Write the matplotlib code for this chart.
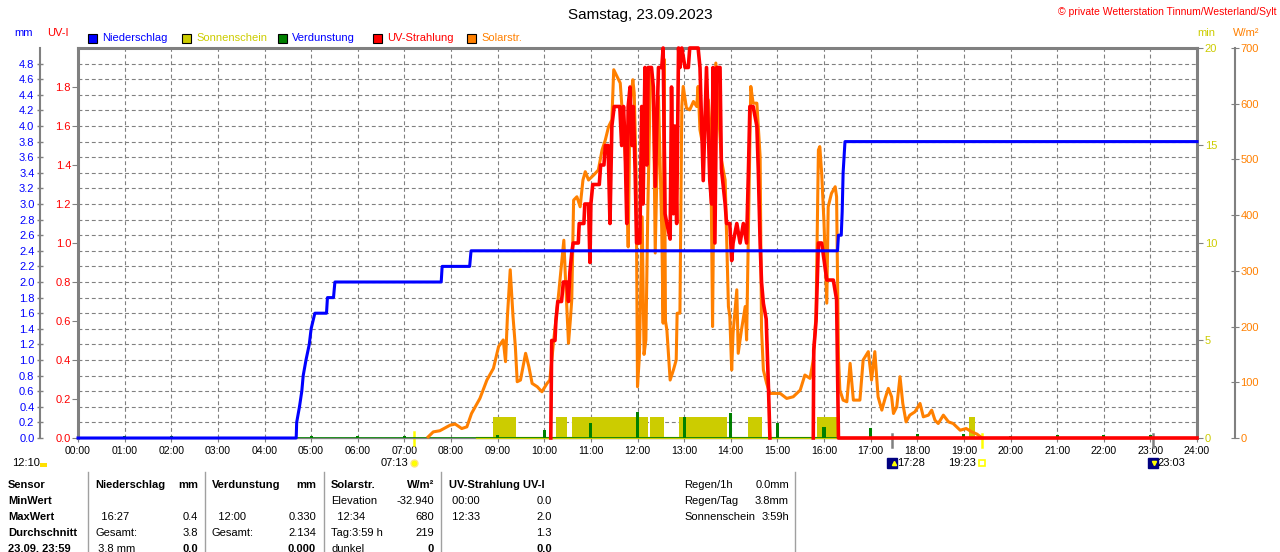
import matplotlib
matplotlib.use("Agg")
import matplotlib.pyplot as plt
import matplotlib.transforms as mtransforms
from matplotlib.patches import Rectangle
from matplotlib.lines import Line2D

plt.rcParams['font.family'] = ['Liberation Sans', 'DejaVu Sans']
plt.rcParams['font.size'] = 8

# ---------------- data ----------------
hours = list(range(25))
hour_labels = ["%02d:00" % h for h in hours]

# Niederschlag, cumulative mm
rain = [(0, 0), (4.68, 0), (4.69, 0.2), (4.75, 0.4), (4.80, 0.6), (4.83, 0.8), (4.89, 1.0),
        (4.96, 1.2), (5.00, 1.4), (5.08, 1.6), (5.33, 1.6), (5.35, 1.8), (5.48, 1.8),
        (5.51, 2.0), (7.79, 2.0), (7.81, 2.2), (8.40, 2.2), (8.43, 2.4), (16.29, 2.4),
        (16.31, 2.6), (16.37, 2.6), (16.39, 2.9), (16.41, 3.4), (16.45, 3.8), (24, 3.8)]

# Solarstrahlung, W/m2
solar = [(7.51, 2), (7.62, 11), (7.76, 13), (7.98, 23), (8.09, 25), (8.23, 17), (8.34, 20),
         (8.44, 44), (8.62, 71), (8.77, 104), (8.91, 125), (9.02, 164), (9.12, 176),
         (9.17, 137), (9.21, 218), (9.27, 302), (9.33, 218), (9.38, 164), (9.42, 101),
         (9.49, 104), (9.60, 152), (9.67, 128), (9.74, 98), (9.85, 92), (9.95, 83),
         (10.06, 98), (10.12, 104), (10.20, 173), (10.31, 260), (10.42, 355), (10.45, 296),
         (10.52, 170), (10.56, 212), (10.59, 248), (10.63, 427), (10.70, 433), (10.77, 415),
         (10.83, 463), (10.88, 478), (10.95, 463), (11.06, 472), (11.16, 481), (11.24, 517),
         (11.31, 535), (11.38, 559), (11.45, 571), (11.49, 661), (11.56, 649), (11.63, 637),
         (11.66, 601), (11.70, 559), (11.77, 457), (11.80, 343), (11.84, 595), (11.90, 643),
         (11.93, 619), (11.97, 475), (12.00, 92), (12.04, 146), (12.10, 397), (12.14, 150),
         (12.18, 176), (12.22, 404), (12.28, 655), (12.34, 625), (12.38, 332), (12.45, 613),
         (12.52, 373), (12.55, 206), (12.57, 680), (12.60, 210), (12.63, 194), (12.70, 104),
         (12.77, 122), (12.83, 140), (12.85, 224), (12.91, 224), (12.95, 595), (12.98, 631),
         (13.05, 592), (13.12, 589), (13.20, 604), (13.27, 595), (13.30, 631), (13.34, 553),
         (13.38, 535), (13.45, 577), (13.52, 607), (13.57, 535), (13.61, 200), (13.64, 475),
         (13.68, 673), (13.73, 595), (13.80, 499), (13.88, 463), (13.95, 236), (13.98, 218),
         (14.02, 122), (14.05, 188), (14.13, 266), (14.16, 152), (14.23, 194), (14.31, 236),
         (14.34, 176), (14.40, 475), (14.43, 631), (14.48, 601), (14.56, 601), (14.63, 505),
         (14.66, 194), (14.70, 122), (14.77, 98), (14.84, 80), (14.91, 80), (15.06, 80),
         (15.20, 71), (15.34, 74), (15.49, 86), (15.59, 113), (15.70, 107), (15.77, 140),
         (15.83, 224), (15.88, 517), (15.91, 523), (15.95, 475), (16.00, 386), (16.06, 242),
         (16.09, 415), (16.16, 439), (16.24, 451), (16.27, 433), (16.31, 146), (16.34, 86),
         (16.41, 68), (16.49, 65), (16.56, 134), (16.63, 68), (16.77, 68), (16.84, 140),
         (16.95, 155), (17.02, 104), (17.09, 155), (17.16, 74), (17.24, 50), (17.31, 71),
         (17.38, 89), (17.45, 74), (17.49, 44), (17.56, 56), (17.63, 110), (17.69, 62),
         (17.76, 29), (17.84, 41), (17.95, 47), (18.06, 62), (18.13, 38), (18.24, 41),
         (18.31, 50), (18.38, 32), (18.45, 26), (18.56, 41), (18.67, 29), (18.77, 26),
         (18.92, 14), (19.05, 17), (19.17, 11), (19.28, 7), (19.36, 2)]

# UV-Index, two drawn stretches
uv_morning = [(10.14, 0), (10.16, 0.5), (10.23, 0.5), (10.25, 0.6), (10.29, 0.7), (10.37, 0.7),
              (10.41, 0.8), (10.48, 0.8), (10.52, 0.7), (10.55, 0.85), (10.59, 0.95),
              (10.62, 1.0), (10.73, 1.0), (10.75, 1.1), (10.85, 1.1), (10.87, 1.2),
              (10.95, 1.2), (10.98, 0.9), (11.00, 1.2), (11.04, 1.3), (11.18, 1.3),
              (11.21, 1.4), (11.28, 1.4), (11.31, 1.5), (11.37, 1.5), (11.41, 1.1),
              (11.45, 1.6), (11.50, 1.7), (11.62, 1.7), (11.66, 1.5), (11.70, 1.7),
              (11.73, 1.53), (11.77, 1.1), (11.80, 1.7), (11.84, 1.8), (11.88, 1.5),
              (11.91, 1.7), (11.95, 1.36), (11.98, 1.0), (12.05, 1.0), (12.09, 1.7),
              (12.12, 1.2), (12.16, 1.9), (12.20, 1.4), (12.23, 1.9), (12.30, 1.9),
              (12.34, 1.8), (12.38, 1.29), (12.45, 1.9), (12.52, 1.9), (12.55, 2.0),
              (12.59, 1.15), (12.63, 1.1), (12.70, 1.02), (12.73, 1.8), (12.77, 1.15),
              (12.80, 1.6), (12.84, 1.1), (12.88, 2.0), (12.91, 1.9), (12.95, 2.0),
              (13.02, 1.9), (13.09, 1.9), (13.12, 2.0), (13.30, 2.0), (13.34, 1.9),
              (13.41, 1.32), (13.48, 1.9), (13.55, 1.32), (13.59, 1.2), (13.62, 1.9),
              (13.66, 1.0), (13.70, 1.9), (13.77, 1.9), (13.80, 1.38), (13.88, 1.2),
              (13.91, 1.1), (13.98, 1.1), (14.02, 0.91), (14.05, 1.0), (14.13, 1.1),
              (14.20, 1.0), (14.27, 1.1), (14.34, 1.0), (14.38, 1.38), (14.41, 1.7),
              (14.48, 1.7), (14.56, 1.6), (14.59, 1.38), (14.63, 1.0), (14.66, 0.8),
              (14.70, 0.69), (14.76, 0.61), (14.81, 0.25), (14.84, 0)]
uv_afternoon = [(15.77, 0), (15.78, 0.45), (15.83, 0.6), (15.88, 1.0), (15.95, 1.0),
                (15.98, 0.95), (16.02, 0.88), (16.06, 0.81), (16.20, 0.81), (16.27, 0.71),
                (16.31, 0), (24, 0)]

# Sonnenschein, minutes
sun_start = [8.91, 10.25, 10.59, 12.27, 12.90, 14.36, 15.84, 19.11]
sun_end = [9.39, 10.48, 12.23, 12.57, 13.93, 14.66, 16.27, 19.24]
sun_min = [1.1, 1.1, 1.1, 1.1, 1.1, 1.1, 1.1, 1.1]
sun_day = [8.55, 19.4]

# Verdunstung, mm per hour
evap_h = list(range(1, 24))
evap_mm = [0.03, 0.03, 0, 0, 0.02, 0.02, 0.02, 0, 0.04, 0.10, 0.19, 0.33, 0.27, 0.32,
           0.19, 0.14, 0.13, 0.05, 0.05, 0.02, 0.04, 0.04, 0.04]

mm_ticks = [round(0.2 * i, 1) for i in range(25)]
uv_ticks = [round(0.2 * i, 1) for i in range(10)]
sun_ticks = [0, 5, 10, 15, 20]
sol_ticks = list(range(0, 701, 100))

legend_items = [("Niederschlag", "#0000ff", "#0000ff"),
                ("Sonnenschein", "#cccc00", "#cccc00"),
                ("Verdunstung", "#008000", "#0000ff"),
                ("UV-Strahlung", "#ff0000", "#ff0000"),
                ("Solarstr.", "#ff8000", "#ff8000")]

table_rows = [
    ["Sensor", "Niederschlag", "mm", "Verdunstung", "mm", "Solarstr.", "W/m²", "UV-Strahlung UV-I", ""],
    ["MinWert", "", "", "", "", "Elevation", "-32.940", " 00:00", "0.0"],
    ["MaxWert", "  16:27", "0.4", "  12:00", "0.330", "  12:34", "680", " 12:33", "2.0"],
    ["Durchschnitt", "Gesamt:", "3.8", "Gesamt:", "2.134", "Tag:3:59 h", "219", "", "1.3"],
    ["23.09. 23:59", " 3.8 mm", "0.0", "", "0.000", "dunkel", "0", "", "0.0"],
]
summary_rows = [["Regen/1h", "0.0mm"], ["Regen/Tag", "3.8mm"], ["Sonnenschein", "3:59h"]]

# sun / moon events (hours, label)
sunrise = (7 + 13 / 60, "07:13")
sunset = (19 + 23 / 60, "19:23")
moon_a = (17 + 28 / 60, "17:28")
moon_b = (23 + 3 / 60, "23:03")

# ---------------- figure ----------------
W, H = 1280, 552
GRAY = "#808080"


def fx(px):
    return px / W


def fy(py):
    return 1 - py / H


fig = plt.figure(figsize=(12.8, 5.52), dpi=100)
L, R, T, B = 78, 1197, 48, 438
ax = fig.add_axes([fx(L), fy(B), (R - L) / W, (B - T) / H])
ax.set_xlim(0, 24)
ax.set_ylim(0, 5)

# grid + mm axis
ax.set_xticks(hours)
ax.set_xticklabels(hour_labels)
ax.set_yticks(mm_ticks)
ax.set_yticklabels(["%.1f" % v for v in mm_ticks])
ax.grid(True, color=GRAY, lw=0.8, ls=(0, (3.5, 2.5)))
ax.tick_params(axis='x', direction='out', length=3, color=GRAY, labelsize=7.6, pad=3)
ax.tick_params(axis='y', direction='inout', length=5, width=1, color=GRAY,
               labelcolor='#0000ff', labelsize=8, pad=1.5)
ax.spines['left'].set_position(('axes', -38 / (R - L)))
ax.spines['left'].set_color(GRAY)
ax.spines['left'].set_linewidth(1.5)
ax.spines['top'].set_color(GRAY)
ax.spines['top'].set_linewidth(2.2)
ax.spines['bottom'].set_color(GRAY)
ax.spines['bottom'].set_linewidth(1)
ax.spines['right'].set_visible(False)


def twin(ylim):
    a = ax.twinx()
    a.set_ylim(*ylim)
    for s in a.spines.values():
        s.set_visible(False)
    a.set_yticks([])
    return a


# sunshine
ax_sun = twin((0, 20))
ax_sun.bar(sun_start, sun_min, width=[e - s for s, e in zip(sun_start, sun_end)],
           align='edge', color='#cccc00', lw=0)
ax_sun.plot(sun_day, [0, 0], color='#cccc00', lw=1.6, clip_on=False)
ax_sun.spines['right'].set_visible(True)
ax_sun.spines['right'].set_color(GRAY)
ax_sun.spines['right'].set_linewidth(2.2)
ax_sun.set_yticks(sun_ticks)
ax_sun.tick_params(axis='y', direction='out', length=4.5, color=GRAY,
                   labelcolor='#cccc00', labelsize=8, pad=1)

# evaporation
ax_ev = twin((0, 5))
ax_ev.axhline(0, color='#008000', lw=1.2)
ax_ev.bar(evap_h, evap_mm, width=0.065, color='#008000', lw=0)

# solar
ax_sol = twin((0, 700))
ax_sol.plot([p[0] for p in solar], [p[1] for p in solar], color='#ff8000', lw=2.2,
            clip_on=False)
ax_sol.spines['right'].set_visible(True)
ax_sol.spines['right'].set_position(('axes', 1 + 38 / (R - L)))
ax_sol.spines['right'].set_color(GRAY)
ax_sol.spines['right'].set_linewidth(1.5)
ax_sol.set_yticks(sol_ticks)
ax_sol.tick_params(axis='y', direction='inout', length=6, color=GRAY,
                   labelcolor='#ff8000', labelsize=8, pad=1)

# UV
ax_uv = twin((0, 2))
uv_t = [p[0] for p in uv_morning] + [float('nan')] + [p[0] for p in uv_afternoon]
uv_v = [p[1] for p in uv_morning] + [float('nan')] + [p[1] for p in uv_afternoon]
ax_uv.plot(uv_t, uv_v, color='#ff0000', lw=2.6, clip_on=False)
ax_uv.yaxis.set_ticks_position('left')
ax_uv.spines['left'].set_visible(True)
ax_uv.spines['left'].set_color(GRAY)
ax_uv.spines['left'].set_linewidth(2.2)
ax_uv.set_yticks(uv_ticks)
ax_uv.set_yticklabels(["%.1f" % v for v in uv_ticks])
ax_uv.tick_params(axis='y', direction='out', length=4, color=GRAY,
                  labelcolor='#ff0000', labelsize=8, pad=1)

# rain on top
ax_rain = twin((0, 5))
ax_rain.plot([p[0] for p in rain], [p[1] for p in rain], color='#0000ff', lw=2.2,
             clip_on=False)

# sun / moon markers under the time axis
trans = mtransforms.blended_transform_factory(ax.transData, ax.transAxes)
ax.plot([sunrise[0]] * 2, [0.015, -0.018], color='#ffff00', lw=1.8, transform=trans,
        clip_on=False)
ax.plot([sunset[0]] * 2, [0.01, -0.023], color='#ffff00', lw=1.8, transform=trans,
        clip_on=False)
for ev in (moon_a, moon_b):
    ax.plot([ev[0]] * 2, [0.01, -0.023], color=GRAY, lw=1.8, transform=trans,
            clip_on=False)
icon_y = -0.064
ax.plot(sunrise[0], icon_y, 'o', ms=5, mfc='#ffff00', mec='#ffe680', transform=trans,
        clip_on=False)
ax.annotate(sunrise[1], (sunrise[0], icon_y), xycoords=trans, xytext=(-6, 0),
            textcoords='offset pixels', ha='right', va='center', fontsize=8)
ax.plot(sunset[0], icon_y, 's', ms=4.5, mfc='none', mec='#ffff00', mew=1.2,
        transform=trans, clip_on=False)
ax.annotate(sunset[1], (sunset[0], icon_y), xycoords=trans, xytext=(-6, 0),
            textcoords='offset pixels', ha='right', va='center', fontsize=8)
for ev, arrow in ((moon_a, '^'), (moon_b, 'v')):
    ax.plot(ev[0], icon_y, 's', ms=6.5, mfc='#000080', mec='#000080', transform=trans,
            clip_on=False)
    ax.plot(ev[0] + 0.03, icon_y, arrow, ms=3, mfc='#ffff00', mec='#ffff00',
            transform=trans, clip_on=False)
    ax.annotate(ev[1], (ev[0], icon_y), xycoords=trans, xytext=(5, 0),
                textcoords='offset pixels', ha='left', va='center', fontsize=8)
fig.text(fx(12), fy(463), "12:10", ha='left', va='center', fontsize=8)
fig.add_artist(Rectangle((fx(40), fy(467)), 7 / W, 4 / H, transform=fig.transFigure,
                         facecolor='#ffe000', edgecolor='none'))

# titles and units
fig.text(0.5, fy(15), "Samstag, 23.09.2023", ha='center', va='center', fontsize=11)
fig.text(fx(1277), fy(12), "© private Wetterstation Tinnum/Westerland/Sylt", ha='right',
         va='center', fontsize=7.5, color='#ff0000')
fig.text(fx(14), fy(33), "mm", color='#0000ff', va='center', fontsize=8)
fig.text(fx(47), fy(33), "UV-I", color='#ff0000', va='center', fontsize=8)
fig.text(fx(1197), fy(33), "min", color='#cccc00', va='center', fontsize=8)
fig.text(fx(1233), fy(33), "W/m²", color='#ff8000', va='center', fontsize=8)

# legend row
leg_x = [88, 182, 278, 373, 467]
for (label, fc, tc), x0 in zip(legend_items, leg_x):
    fig.add_artist(Rectangle((fx(x0), fy(43)), 9 / W, 9 / H, transform=fig.transFigure,
                             facecolor=fc, edgecolor='black', lw=0.8))
    fig.text(fx(x0 + 14), fy(38), label, color=tc, va='center', fontsize=8)

# table below the chart
for xs in (88, 205, 324, 441, 795):
    fig.add_artist(Line2D([fx(xs), fx(xs)], [fy(472), 0], transform=fig.transFigure,
                          color='#a0a0a0', lw=1))
col_x = [8, 95, 198, 212, 316, 331, 434, 449, 552]
col_ha = ['left', 'left', 'right', 'left', 'right', 'left', 'right', 'left', 'right']
row_y = [485, 501, 517, 533, 549]
for r, (row, yy) in enumerate(zip(table_rows, row_y)):
    for c, txt in enumerate(row):
        if not txt:
            continue
        bold = c == 0 or r == 0 or (r == 4 and c in (2, 4, 6, 8))
        fig.text(fx(col_x[c]), fy(yy), txt, ha=col_ha[c], va='center', fontsize=8,
                 fontweight='bold' if bold else 'normal')
for (name, val), yy in zip(summary_rows, row_y):
    fig.text(fx(684), fy(yy), name, ha='left', va='center', fontsize=8)
    fig.text(fx(789), fy(yy), val, ha='right', va='center', fontsize=8)

fig.savefig("out.png", dpi=100)
